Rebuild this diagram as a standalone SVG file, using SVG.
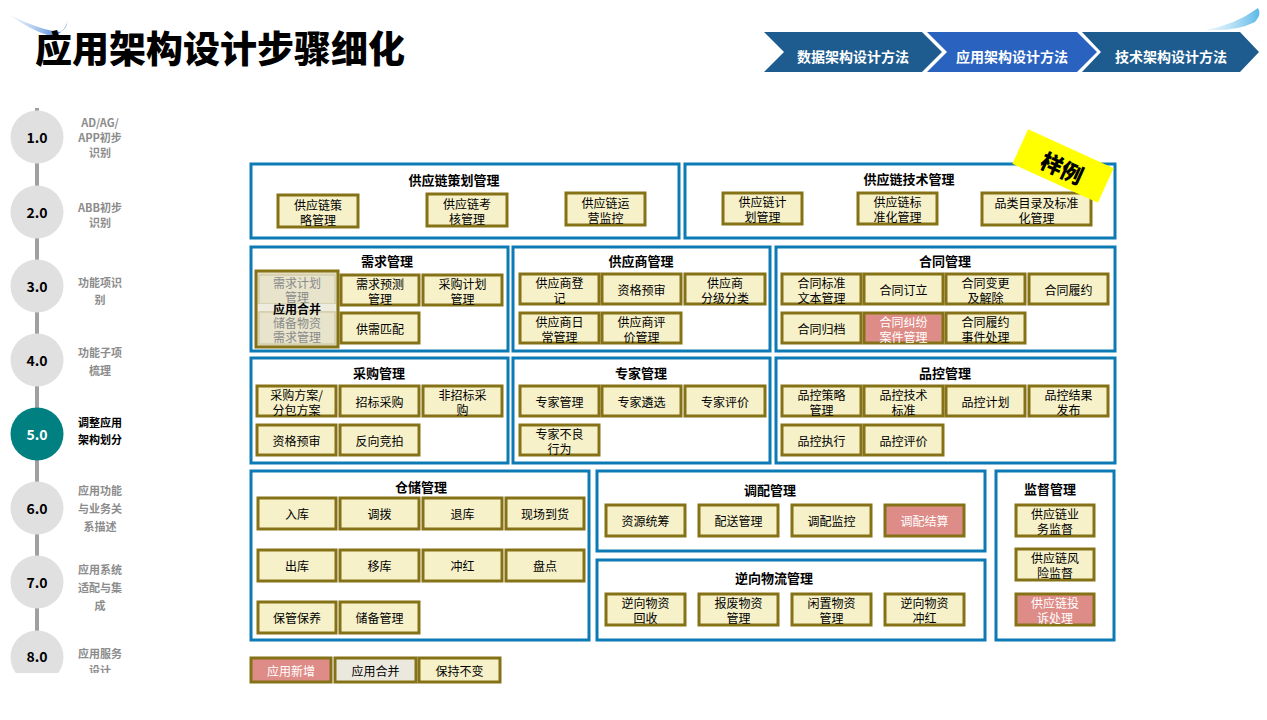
<svg xmlns="http://www.w3.org/2000/svg" width="1267" height="720" viewBox="0 0 1267 720">
<defs>
<style>
text{font-family:"Noto Sans CJK SC","Noto Sans",sans-serif;}
.grp{fill:#fff;stroke:#0B7AB5;stroke-width:3;}
.it{fill:#F6F1C8;stroke:#857216;stroke-width:3;}
.pk{fill:#DE8C87;stroke:#857216;stroke-width:3;}
.gy{fill:#EBE9DE;stroke:#857216;stroke-width:3;}
.t{font-size:12px;text-anchor:middle;dominant-baseline:central;fill:#000;}
.tw{font-size:12px;text-anchor:middle;dominant-baseline:central;fill:#fff;}
.h{font-size:13px;font-weight:bold;text-anchor:middle;dominant-baseline:central;fill:#000;}
.num{font-size:14px;font-weight:bold;text-anchor:middle;dominant-baseline:central;fill:#000;}
.lb{font-size:11px;font-weight:bold;text-anchor:middle;dominant-baseline:central;fill:#8C8C8C;}
.chev{font-size:14px;font-weight:bold;text-anchor:middle;dominant-baseline:central;fill:#fff;}
.circ{fill:#E0E0E0;}
</style>
<linearGradient id="sw1" x1="0" y1="0" x2="1" y2="0">
<stop offset="0" stop-color="#BFD8F2" stop-opacity="0.3"/>
<stop offset="1" stop-color="#1E63D6"/>
</linearGradient>
<linearGradient id="sw2" x1="0" y1="0" x2="1" y2="0">
<stop offset="0" stop-color="#BFE4F8" stop-opacity="0.3"/>
<stop offset="1" stop-color="#5BB8E8"/>
</linearGradient>
</defs>
<rect width="1267" height="720" fill="#fff"/>

<g id="title">
<path d="M10,15 Q40,30 60,32 Q66,30 68,20 Q64,35 50,36 Q30,30 10,15 Z" fill="url(#sw1)"/>
<text x="35" y="63" font-size="37" font-weight="900" fill="#000">应用架构设计步骤细化</text>
</g>

<g id="nav">
<path d="M1205,30 Q1235,25 1258,8 Q1262,14 1255,22 Q1235,32 1205,30 Z" fill="url(#sw2)"/>
<g id="nav-data"><polygon points="764,32 922,32 942,52 922,72 764,72 784,52" fill="#1E5C8F"/><text class="chev" x="853" y="56">数据架构设计方法</text></g>
<g id="nav-tech"><polygon points="1082,32 1240,32 1259,52 1240,72 1082,72 1101,52" fill="#1E5C8F"/><text class="chev" x="1171" y="56">技术架构设计方法</text></g>
<g id="nav-app"><polygon points="927,32 1077,32 1097,52 1077,72 927,72 947,52" fill="#2962BF"/><text class="chev" x="1012" y="56">应用架构设计方法</text></g>
</g>

<g id="connectors">
<line x1="37" y1="108" x2="37" y2="672" stroke="#A0A0A0" stroke-width="4"/>
</g>

<g id="steps">
<g id="s1"><circle class="circ" cx="37" cy="137" r="26.5"/><text class="num" x="37" y="137">1.0</text><text class="lb"><tspan x="100" y="122">AD/AG/</tspan><tspan x="100" y="137">APP初步</tspan><tspan x="100" y="152">识别</tspan></text></g>
<g id="s2"><circle class="circ" cx="37" cy="212" r="26.5"/><text class="num" x="37" y="212">2.0</text><text class="lb"><tspan x="100" y="207">ABB初步</tspan><tspan x="100" y="222">识别</tspan></text></g>
<g id="s3"><circle class="circ" cx="37" cy="286" r="26.5"/><text class="num" x="37" y="286">3.0</text><text class="lb"><tspan x="100" y="282">功能项识</tspan><tspan x="100" y="299">别</tspan></text></g>
<g id="s4"><circle class="circ" cx="37" cy="360" r="26.5"/><text class="num" x="37" y="360">4.0</text><text class="lb"><tspan x="100" y="352">功能子项</tspan><tspan x="100" y="370">梳理</tspan></text></g>
<g id="s5"><circle cx="37" cy="434" r="26.5" fill="#008080"/><text class="num" x="37" y="434" style="fill:#fff">5.0</text><text class="lb" style="fill:#000"><tspan x="100" y="422">调整应用</tspan><tspan x="100" y="439">架构划分</tspan></text></g>
<g id="s6"><circle class="circ" cx="37" cy="508" r="26.5"/><text class="num" x="37" y="508">6.0</text><text class="lb"><tspan x="100" y="490">应用功能</tspan><tspan x="100" y="508">与业务关</tspan><tspan x="100" y="526">系描述</tspan></text></g>
<g id="s7"><circle class="circ" cx="37" cy="582" r="26.5"/><text class="num" x="37" y="582">7.0</text><text class="lb"><tspan x="100" y="569">应用系统</tspan><tspan x="100" y="587">适配与集</tspan><tspan x="100" y="605">成</tspan></text></g>
<g id="s8"><circle class="circ" cx="37" cy="657" r="26.5"/><text class="num" x="37" y="656">8.0</text><text class="lb"><tspan x="100" y="653">应用服务</tspan><tspan x="100" y="670">设计</tspan></text></g>
<rect x="0" y="673" width="200" height="47" fill="#fff"/>
</g>

<g id="g-plan"><rect class="grp" x="251" y="164" width="428" height="74"/><text class="h" x="454" y="179">供应链策划管理</text>
<g id="n-clgl"><rect class="it" x="278" y="195" width="80" height="32"/><text class="t"><tspan x="318" y="203.5">供应链策</tspan><tspan x="318" y="218.5">略管理</tspan></text></g>
<g id="n-khgl"><rect class="it" x="427" y="194" width="80" height="32"/><text class="t"><tspan x="467" y="202.5">供应链考</tspan><tspan x="467" y="217.5">核管理</tspan></text></g>
<g id="n-yyjk"><rect class="it" x="566" y="193" width="79" height="32"/><text class="t"><tspan x="605.5" y="201.5">供应链运</tspan><tspan x="605.5" y="216.5">营监控</tspan></text></g>
</g>

<g id="g-tech"><rect class="grp" x="685" y="164" width="430" height="74"/><text class="h" x="909" y="178">供应链技术管理</text>
<g id="n-jhgl"><rect class="it" x="723" y="193" width="79" height="31"/><text class="t"><tspan x="762.5" y="201">供应链计</tspan><tspan x="762.5" y="216">划管理</tspan></text></g>
<g id="n-bzh"><rect class="it" x="858" y="193" width="79" height="31"/><text class="t"><tspan x="897.5" y="201">供应链标</tspan><tspan x="897.5" y="216">准化管理</tspan></text></g>
<g id="n-plml"><rect class="it" x="982" y="193" width="109" height="32"/><text class="t"><tspan x="1036.5" y="201.5">品类目录及标准</tspan><tspan x="1036.5" y="216.5">化管理</tspan></text></g>
</g>

<g id="g-demand"><rect class="grp" x="251" y="247" width="257" height="104"/><text class="h" x="387" y="260">需求管理</text>
<g id="n-merge"><rect x="256" y="271" width="82" height="76" fill="#E4DFC2" stroke="#857216" stroke-width="3"/>
<rect x="259" y="275" width="76" height="29" fill="#E8E4CC" stroke="#C9C29A" stroke-width="1"/>
<rect x="258" y="304" width="78" height="7" fill="#EEEBDF"/>
<rect x="259" y="312" width="76" height="32" fill="#E8E4CC" stroke="#C9C29A" stroke-width="1"/>
<text class="t" style="fill:#8A8A8A"><tspan x="297" y="282">需求计划</tspan><tspan x="297" y="296">管理</tspan></text>
<text class="t" style="fill:#8A8A8A"><tspan x="297" y="322">储备物资</tspan><tspan x="297" y="336">需求管理</tspan></text>
<text class="t" x="297" y="308" font-weight="bold">应用合并</text></g>
<g id="n-xqyc"><rect class="it" x="341" y="275" width="78" height="30"/><text class="t"><tspan x="380" y="282.5">需求预测</tspan><tspan x="380" y="297.5">管理</tspan></text></g>
<g id="n-cgjh"><rect class="it" x="423" y="275" width="79" height="30"/><text class="t"><tspan x="462.5" y="282.5">采购计划</tspan><tspan x="462.5" y="297.5">管理</tspan></text></g>
<g id="n-gxpp"><rect class="it" x="341" y="313" width="78" height="30"/><text class="t" x="380" y="328">供需匹配</text></g>
</g>

<g id="g-supplier"><rect class="grp" x="513" y="247" width="257" height="104"/><text class="h" x="641" y="260">供应商管理</text>
<g id="n-gysdj"><rect class="it" x="520" y="274" width="79" height="30"/><text class="t"><tspan x="559.5" y="281.5">供应商登</tspan><tspan x="559.5" y="296.5">记</tspan></text></g>
<g id="n-zgys1"><rect class="it" x="602" y="274" width="79" height="30"/><text class="t" x="641.5" y="289">资格预审</text></g>
<g id="n-fjfl"><rect class="it" x="685" y="274" width="80" height="30"/><text class="t"><tspan x="725" y="281.5">供应商</tspan><tspan x="725" y="296.5">分级分类</tspan></text></g>
<g id="n-rcgl"><rect class="it" x="520" y="313" width="79" height="30"/><text class="t"><tspan x="559.5" y="320.5">供应商日</tspan><tspan x="559.5" y="335.5">常管理</tspan></text></g>
<g id="n-pjgl"><rect class="it" x="602" y="313" width="79" height="30"/><text class="t"><tspan x="641.5" y="320.5">供应商评</tspan><tspan x="641.5" y="335.5">价管理</tspan></text></g>
</g>

<g id="g-contract"><rect class="grp" x="776" y="247" width="339" height="104"/><text class="h" x="945" y="260">合同管理</text>
<g id="n-htbz"><rect class="it" x="782" y="274" width="79" height="30"/><text class="t"><tspan x="821.5" y="281.5">合同标准</tspan><tspan x="821.5" y="296.5">文本管理</tspan></text></g>
<g id="n-htdl"><rect class="it" x="864" y="274" width="79" height="30"/><text class="t" x="903.5" y="289">合同订立</text></g>
<g id="n-htbg"><rect class="it" x="946" y="274" width="79" height="30"/><text class="t"><tspan x="985.5" y="281.5">合同变更</tspan><tspan x="985.5" y="296.5">及解除</tspan></text></g>
<g id="n-htly"><rect class="it" x="1029" y="274" width="79" height="30"/><text class="t" x="1068.5" y="289">合同履约</text></g>
<g id="n-htgd"><rect class="it" x="782" y="313" width="79" height="30"/><text class="t" x="821.5" y="328">合同归档</text></g>
<g id="n-htjf"><rect class="pk" x="864" y="313" width="79" height="30"/><text class="tw"><tspan x="903.5" y="320.5">合同纠纷</tspan><tspan x="903.5" y="335.5">案件管理</tspan></text></g>
<g id="n-htsj"><rect class="it" x="946" y="313" width="79" height="30"/><text class="t"><tspan x="985.5" y="320.5">合同履约</tspan><tspan x="985.5" y="335.5">事件处理</tspan></text></g>
</g>

<g id="g-purchase"><rect class="grp" x="251" y="358" width="257" height="105"/><text class="h" x="379" y="372">采购管理</text>
<g id="n-cgfa"><rect class="it" x="257" y="386" width="79" height="30"/><text class="t"><tspan x="296.5" y="393.5">采购方案/</tspan><tspan x="296.5" y="408.5">分包方案</tspan></text></g>
<g id="n-zbcg"><rect class="it" x="340" y="386" width="79" height="30"/><text class="t" x="379.5" y="401">招标采购</text></g>
<g id="n-fzbcg"><rect class="it" x="423" y="386" width="79" height="30"/><text class="t"><tspan x="462.5" y="393.5">非招标采</tspan><tspan x="462.5" y="408.5">购</tspan></text></g>
<g id="n-zgys2"><rect class="it" x="257" y="425" width="79" height="30"/><text class="t" x="296.5" y="440">资格预审</text></g>
<g id="n-fxjp"><rect class="it" x="340" y="425" width="79" height="30"/><text class="t" x="379.5" y="440">反向竞拍</text></g>
</g>

<g id="g-expert"><rect class="grp" x="513" y="358" width="257" height="105"/><text class="h" x="641" y="372">专家管理</text>
<g id="n-zjgl"><rect class="it" x="520" y="386" width="79" height="30"/><text class="t" x="559.5" y="401">专家管理</text></g>
<g id="n-zjlx"><rect class="it" x="602" y="386" width="79" height="30"/><text class="t" x="641.5" y="401">专家遴选</text></g>
<g id="n-zjpj"><rect class="it" x="685" y="386" width="80" height="30"/><text class="t" x="725" y="401">专家评价</text></g>
<g id="n-zjbl"><rect class="it" x="520" y="425" width="79" height="30"/><text class="t"><tspan x="559.5" y="432.5">专家不良</tspan><tspan x="559.5" y="447.5">行为</tspan></text></g>
</g>

<g id="g-quality"><rect class="grp" x="776" y="358" width="339" height="105"/><text class="h" x="945" y="372">品控管理</text>
<g id="n-pkcl"><rect class="it" x="782" y="386" width="79" height="30"/><text class="t"><tspan x="821.5" y="393.5">品控策略</tspan><tspan x="821.5" y="408.5">管理</tspan></text></g>
<g id="n-pkjs"><rect class="it" x="864" y="386" width="79" height="30"/><text class="t"><tspan x="903.5" y="393.5">品控技术</tspan><tspan x="903.5" y="408.5">标准</tspan></text></g>
<g id="n-pkjh"><rect class="it" x="946" y="386" width="79" height="30"/><text class="t" x="985.5" y="401">品控计划</text></g>
<g id="n-pkjg"><rect class="it" x="1029" y="386" width="79" height="30"/><text class="t"><tspan x="1068.5" y="393.5">品控结果</tspan><tspan x="1068.5" y="408.5">发布</tspan></text></g>
<g id="n-pkzx"><rect class="it" x="782" y="425" width="79" height="30"/><text class="t" x="821.5" y="440">品控执行</text></g>
<g id="n-pkpj"><rect class="it" x="864" y="425" width="79" height="30"/><text class="t" x="903.5" y="440">品控评价</text></g>
</g>

<g id="g-storage"><rect class="grp" x="251" y="471" width="338" height="169"/><text class="h" x="421" y="486">仓储管理</text>
<g id="n-rk"><rect class="it" x="258" y="498" width="78" height="31"/><text class="t" x="297" y="513.5">入库</text></g>
<g id="n-db"><rect class="it" x="340" y="498" width="79" height="31"/><text class="t" x="379.5" y="513.5">调拨</text></g>
<g id="n-tk"><rect class="it" x="423" y="498" width="79" height="31"/><text class="t" x="462.5" y="513.5">退库</text></g>
<g id="n-xcdh"><rect class="it" x="506" y="498" width="78" height="31"/><text class="t" x="545" y="513.5">现场到货</text></g>
<g id="n-ck"><rect class="it" x="258" y="550" width="78" height="31"/><text class="t" x="297" y="565.5">出库</text></g>
<g id="n-yk"><rect class="it" x="340" y="550" width="79" height="31"/><text class="t" x="379.5" y="565.5">移库</text></g>
<g id="n-ch"><rect class="it" x="423" y="550" width="79" height="31"/><text class="t" x="462.5" y="565.5">冲红</text></g>
<g id="n-pd"><rect class="it" x="506" y="550" width="78" height="31"/><text class="t" x="545" y="565.5">盘点</text></g>
<g id="n-bgby"><rect class="it" x="258" y="602" width="78" height="31"/><text class="t" x="297" y="617.5">保管保养</text></g>
<g id="n-cbgl"><rect class="it" x="340" y="602" width="79" height="31"/><text class="t" x="379.5" y="617.5">储备管理</text></g>
</g>

<g id="g-dispatch"><rect class="grp" x="597" y="471" width="388" height="80"/><text class="h" x="770" y="489">调配管理</text>
<g id="n-zytc"><rect class="it" x="606" y="505" width="79" height="31"/><text class="t" x="645.5" y="520.5">资源统筹</text></g>
<g id="n-psgl"><rect class="it" x="699" y="505" width="79" height="31"/><text class="t" x="738.5" y="520.5">配送管理</text></g>
<g id="n-dpjk"><rect class="it" x="792" y="505" width="79" height="31"/><text class="t" x="831.5" y="520.5">调配监控</text></g>
<g id="n-dpjs"><rect class="pk" x="885" y="505" width="79" height="31"/><text class="tw" x="924.5" y="520.5">调配结算</text></g>
</g>

<g id="g-reverse"><rect class="grp" x="597" y="560" width="388" height="80"/><text class="h" x="774" y="577">逆向物流管理</text>
<g id="n-nxhs"><rect class="it" x="606" y="594" width="79" height="31"/><text class="t"><tspan x="645.5" y="602">逆向物资</tspan><tspan x="645.5" y="617">回收</tspan></text></g>
<g id="n-bfwz"><rect class="it" x="699" y="594" width="79" height="31"/><text class="t"><tspan x="738.5" y="602">报废物资</tspan><tspan x="738.5" y="617">管理</tspan></text></g>
<g id="n-xzwz"><rect class="it" x="792" y="594" width="79" height="31"/><text class="t"><tspan x="831.5" y="602">闲置物资</tspan><tspan x="831.5" y="617">管理</tspan></text></g>
<g id="n-nxch"><rect class="it" x="885" y="594" width="79" height="31"/><text class="t"><tspan x="924.5" y="602">逆向物资</tspan><tspan x="924.5" y="617">冲红</tspan></text></g>
</g>

<g id="g-supervise"><rect class="grp" x="996" y="471" width="118" height="169"/><text class="h" x="1050" y="488">监督管理</text>
<g id="n-ywjd"><rect class="it" x="1016" y="505" width="78" height="31"/><text class="t"><tspan x="1055" y="513">供应链业</tspan><tspan x="1055" y="528">务监督</tspan></text></g>
<g id="n-fxjd"><rect class="it" x="1016" y="549" width="78" height="31"/><text class="t"><tspan x="1055" y="557">供应链风</tspan><tspan x="1055" y="572">险监督</tspan></text></g>
<g id="n-tscl"><rect class="pk" x="1016" y="594" width="78" height="31"/><text class="tw"><tspan x="1055" y="602">供应链投</tspan><tspan x="1055" y="617">诉处理</tspan></text></g>
</g>

<g id="stamp" transform="rotate(24.6 1063 166)">
<rect x="1016" y="147" width="94" height="38" fill="#FFFF00"/>
<text x="1063" y="167" font-size="22" font-weight="900" text-anchor="middle" dominant-baseline="central" fill="#000">样例</text>
</g>

<g id="legend">
<g id="l-new"><rect class="pk" x="251" y="658" width="80" height="24"/><text class="tw" x="291" y="670">应用新增</text></g>
<g id="l-merge"><rect class="gy" x="335" y="658" width="81" height="24"/><text class="t" x="375.5" y="670">应用合并</text></g>
<g id="l-keep"><rect class="it" x="419" y="658" width="81" height="24"/><text class="t" x="459.5" y="670">保持不变</text></g>
</g>
</svg>
